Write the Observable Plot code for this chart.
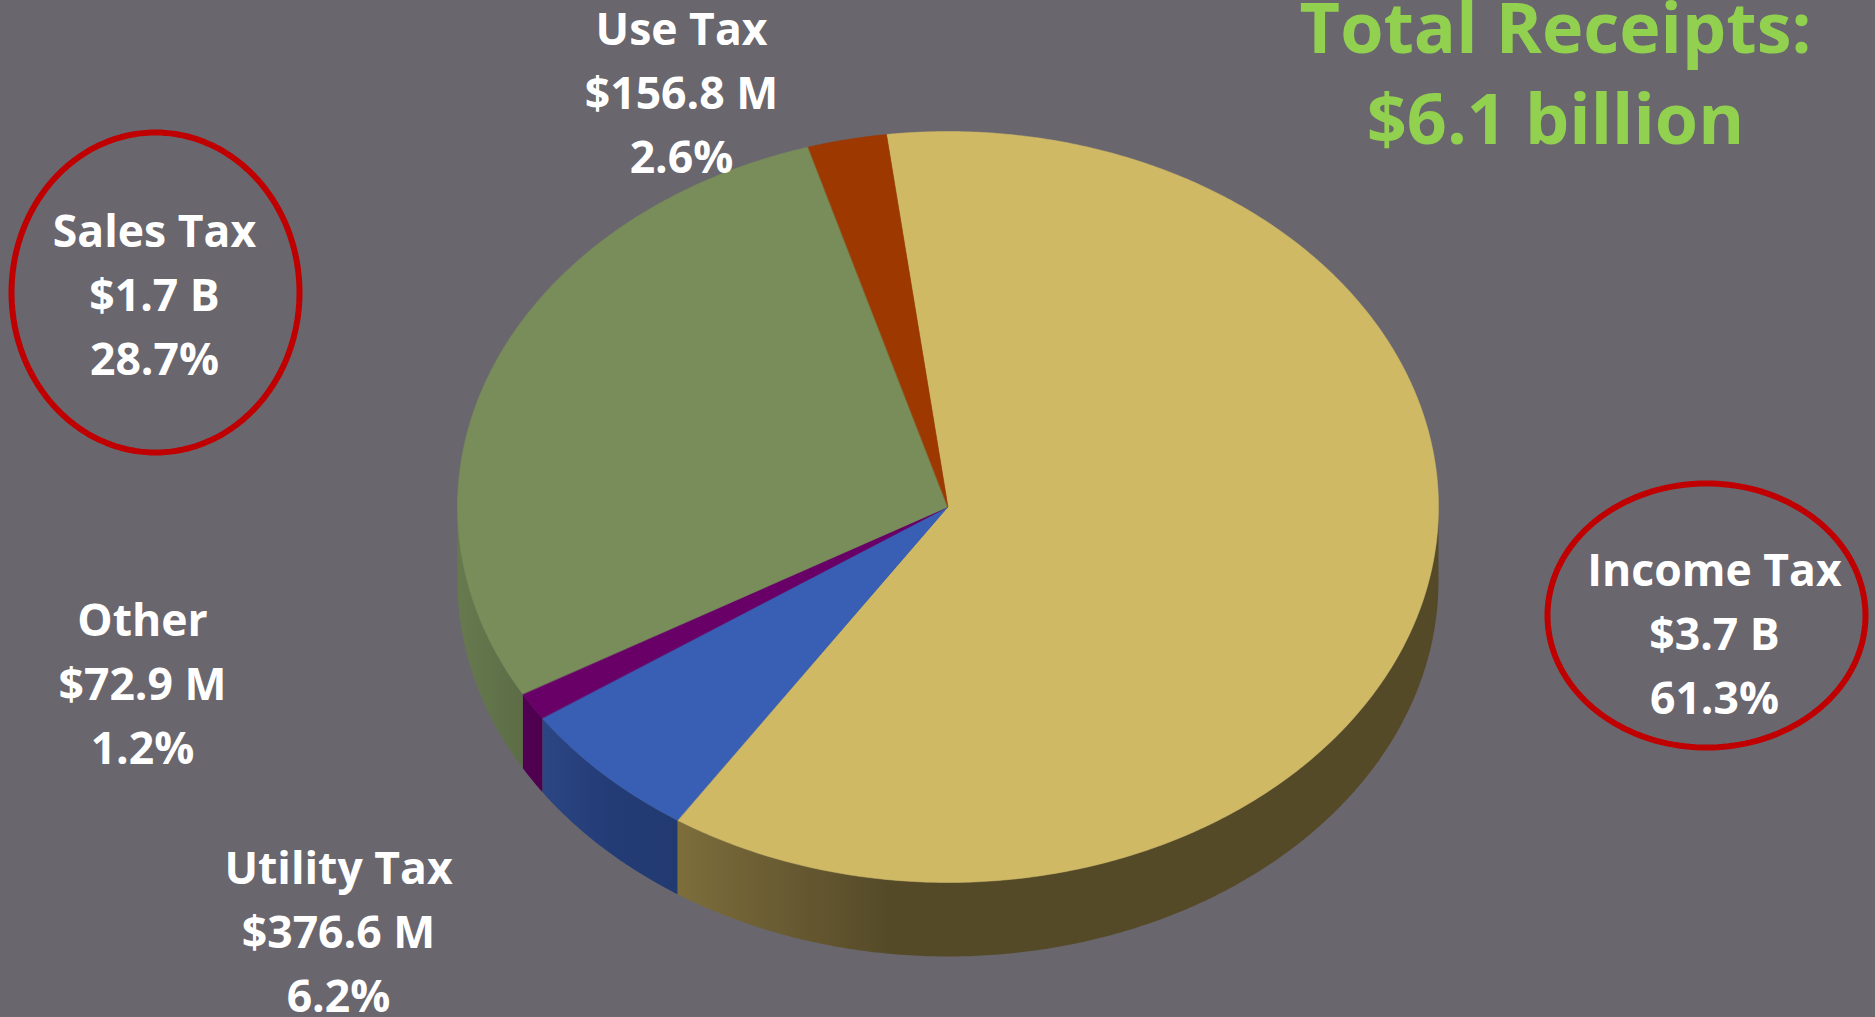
<!DOCTYPE html>
<html>
<head>
<meta charset="utf-8">
<title>Total Receipts</title>
<script src="https://cdn.jsdelivr.net/npm/d3@7"></script>
<script src="https://cdn.jsdelivr.net/npm/@observablehq/plot@0.6"></script>
<style>
  html, body { margin: 0; padding: 0; background: #69666e; overflow: hidden; }
  svg { display: block; }
</style>
</head>
<body>
<div id="chart"></div>
<script>
// Receipts by source
const categories = ["Income Tax", "Utility Tax", "Other", "Sales Tax", "Use Tax"];
const amounts = ["$3.7 B", "$376.6 M", "$72.9 M", "$1.7 B", "$156.8 M"];
const shares = [61.3, 6.2, 1.2, 28.7, 2.6];
const topColors = ["#d0b964", "#385fb3", "#680068", "#788d5a", "#9c3800"];
const totalLines = ["Total Receipts:", "$6.1 billion"];

// Label anchors, keyed by category: centre x and baseline of the last line
const labelX = [1714, 338, 142, 154, 681];
const labelY = [713, 1011, 763, 374, 172];

// Highlight rings around the two largest sources
const rings = [
  {name: "Sales Tax", cx: 155, cy: 292, rx: 144, ry: 160},
  {name: "Income Tax", cx: 1706, cy: 615, rx: 159, ry: 132}
];

// Tilted pie geometry
const WIDTH = 1875, HEIGHT = 1017;
const pie = {cx: 948, cy: 507, rx: 490.5, ry: 375.5, depth: 74, start: -7.2};
const FONT = "'Open Sans', 'Noto Sans', sans-serif";

const rad = (deg) => (deg * Math.PI) / 180;
const rimX = (deg) => pie.cx + pie.rx * Math.sin(rad(deg));
const rimY = (deg) => pie.cy - pie.ry * Math.cos(rad(deg));

// Angular extent of each slice, running clockwise
let cursor = pie.start;
const slices = categories.map((name, i) => {
  const a0 = cursor;
  cursor += (shares[i] / 100) * 360;
  return {name, a0, a1: cursor, color: topColors[i]};
});

const arcAngles = (a0, a1) => {
  const n = Math.max(2, Math.ceil((a1 - a0) / 0.5));
  return d3.range(n + 1).map((k) => a0 + ((a1 - a0) * k) / n);
};

const faceRows = slices.flatMap((s) => arcAngles(s.a0, s.a1).map((angle) => ({name: s.name, angle})));

// Only the front half of the drum shows; the wall runs from 90 to 270 degrees
const wallRows = (s) => {
  const a0 = Math.max(s.a0, 90), a1 = Math.min(s.a1, 270);
  return a1 > a0 ? arcAngles(a0, a1).map((angle) => ({angle})) : [];
};

const wallGradients = [
  {name: "Income Tax", id: "wall-income", stops: [[0, "#7d6e3b"], [0.13, "#6a5c33"], [0.28, "#554a28"], [1, "#544a28"]]},
  {name: "Utility Tax", id: "wall-utility", stops: [[0, "#2b4684"], [0.5, "#243c76"], [1, "#213a70"]]},
  {name: "Other", id: "wall-other", stops: [[0, "#520052"], [1, "#4d004d"]]},
  {name: "Sales Tax", id: "wall-sales", stops: [[0, "#677a4e"], [1, "#5c6d46"]]}
];

const defsMark = () => {
  const defs = d3.create("svg:defs");
  for (const g of wallGradients) {
    const lg = defs.append("linearGradient").attr("id", g.id)
      .attr("x1", 0).attr("x2", 1).attr("y1", 0).attr("y2", 0);
    for (const [offset, color] of g.stops) {
      lg.append("stop").attr("offset", offset).attr("stop-color", color);
    }
  }
  return defs.node();
};

const wallMarks = wallGradients.map((g) =>
  Plot.area(wallRows(slices.find((s) => s.name === g.name)), {
    x1: (d) => rimX(d.angle),
    y1: (d) => rimY(d.angle),
    y2: (d) => rimY(d.angle) + pie.depth,
    fill: `url(#${g.id})`
  })
);

const ringRows = rings.flatMap((r) =>
  d3.range(0, 361, 2).map((angle) => ({
    name: r.name,
    x: r.cx + r.rx * Math.sin(rad(angle)),
    y: r.cy - r.ry * Math.cos(rad(angle))
  }))
);

const labelRows = categories.map((name, i) => ({
  text: `${name}\n${amounts[i]}\n${shares[i]}%`,
  x: labelX[i],
  y: labelY[i]
}));

const chart = Plot.plot({
  width: WIDTH,
  height: HEIGHT,
  margin: 0,
  style: {background: "#69666e", fontFamily: FONT},
  x: {axis: null, domain: [0, WIDTH], range: [0, WIDTH]},
  y: {axis: null, domain: [0, HEIGHT], range: [0, HEIGHT]},
  color: {domain: categories, range: topColors},
  marks: [
    defsMark,
    ...wallMarks,
    Plot.area(faceRows, {
      x1: () => pie.cx,
      y1: () => pie.cy,
      x2: (d) => rimX(d.angle),
      y2: (d) => rimY(d.angle),
      z: "name",
      fill: "name",
      stroke: "name",
      strokeWidth: 0.5
    }),
    Plot.line(ringRows, {x: "x", y: "y", z: "name", stroke: "#c00000", strokeWidth: 6}),
    Plot.text(labelRows, {
      x: "x",
      y: "y",
      text: "text",
      fill: "white",
      fontSize: 44.5,
      fontWeight: 700,
      lineHeight: 1.438,
      lineAnchor: "bottom",
      textAnchor: "middle"
    }),
    Plot.text([totalLines.join("\n")], {
      x: () => 1555,
      y: () => 143,
      text: (d) => d,
      fill: "#92d050",
      fontSize: 70,
      fontWeight: 700,
      lineHeight: 1.29,
      lineAnchor: "bottom",
      textAnchor: "middle"
    })
  ]
});

document.getElementById("chart").append(chart);
</script>
</body>
</html>
